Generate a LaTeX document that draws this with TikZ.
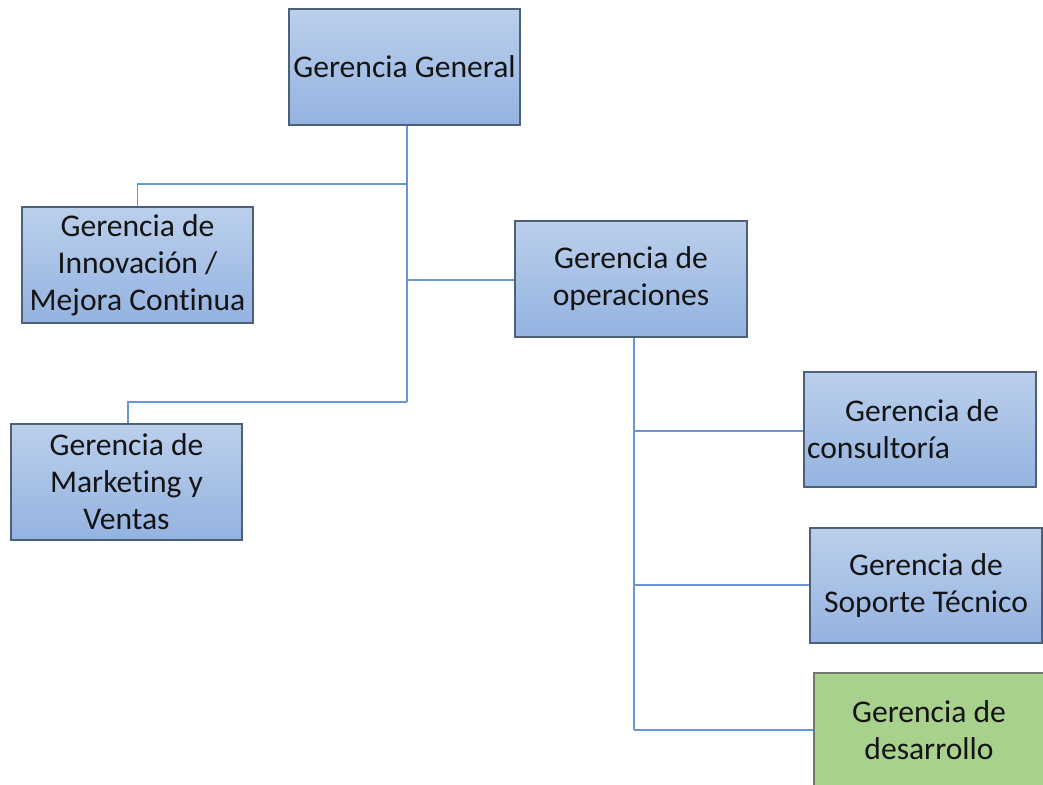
\documentclass[tikz,border=0pt]{standalone}
\usepackage{fontspec}
\setmainfont{Carlito}[Ligatures=NoCommon]
\definecolor{boxtop}{HTML}{BBCFEC}
\definecolor{boxbot}{HTML}{94B3E0}
\definecolor{boxline}{HTML}{4E5F78}
\definecolor{greenfill}{HTML}{A9D18E}
\definecolor{greenline}{HTML}{707A68}
\definecolor{connc}{HTML}{6896D4}
\tikzset{
  box/.style={draw=boxline, line width=1.2pt, top color=boxtop, bottom color=boxbot,
    minimum width=231pt, minimum height=116pt, inner sep=0pt, align=center,
    font=\fontsize{31.6}{37}\selectfont, text=black!92},
  gbox/.style={box, top color=greenfill, bottom color=greenfill, fill=greenfill, draw=greenline},
  conn/.style={draw=connc, line width=1.7pt},
  lbl/.style={inner sep=0pt, align=left, font=\fontsize{31.6}{37}\selectfont, text=black!92}
}
\begin{document}
\begin{tikzpicture}[x=1pt,y=-1pt]
\useasboundingbox (0,0) rectangle (1043,784);
\clip (0,0) rectangle (1043,784);
\fill[white] (0,0) rectangle (1043,784);
% junction points
\coordinate (t1) at (407,184);
\coordinate (t2) at (407,280);
\coordinate (t3) at (407,402);
\coordinate (o1) at (634,431);
\coordinate (o2) at (634,585);
\coordinate (o3) at (634,730);
% boxes
\node[box] (gg) at (404.5,67) {Gerencia General};
\node[box] (innov) at (137.5,265) {Gerencia de\\Innovación /\\Mejora Continua};
\node[box, minimum width=232pt] (ops) at (631,279) {Gerencia de\\operaciones};
\node[box] (mkt) at (126.5,482) {Gerencia de\\Marketing y\\Ventas};
\node[box, minimum width=232pt, minimum height=115pt] (consult) at (920,429.5) {};
\node[lbl, anchor=west] (ctext) at (807,429.5) {\hspace*{38pt}Gerencia de\\consultoría};
\node[box, minimum width=232pt, minimum height=115pt] (soporte) at (926,585.5) {Gerencia de\\Soporte Técnico};
\node[gbox, minimum width=236pt] (desa) at (932,731) {};
\node[lbl, align=center] (dtext) at (929,730) {Gerencia de\\desarrollo};
% connectors
\draw[conn] (gg.south -| t1) -- (t3);
\draw[conn] (t1) -| (innov.north);
\draw[conn] (t2) -- (ops.west |- t2);
\draw[conn] (t3) -| (mkt.north -| 128,0);
\draw[conn] (ops.south -| o1) -- (o3);
\draw[conn] (o1) -- (consult.west |- o1);
\draw[conn] (o2) -- (soporte.west |- o2);
\draw[conn] (o3) -- (desa.west |- o3);
\end{tikzpicture}
\end{document}
